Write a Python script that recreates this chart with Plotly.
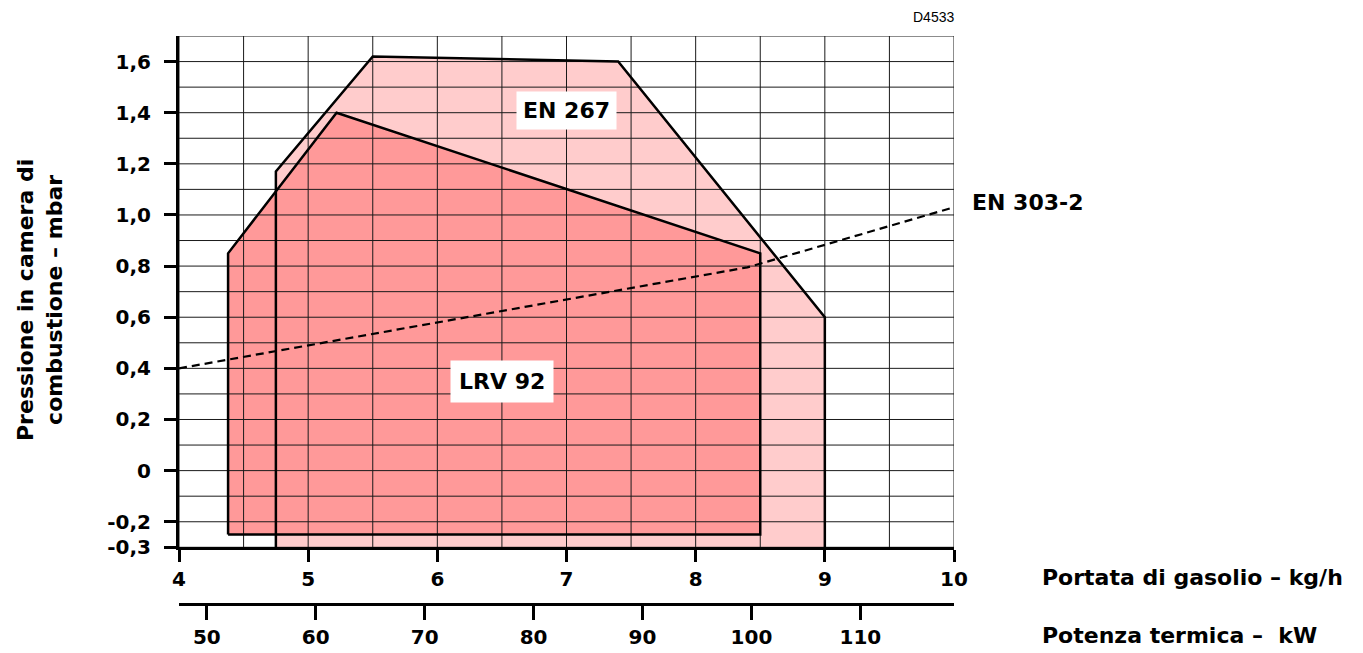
import numpy as np
import plotly.graph_objects as go

# ---- data ----
en267_x = [4.75, 4.75, 5.5, 7.4, 9.0, 9.0]
en267_y = [-0.3, 1.17, 1.62, 1.60, 0.60, -0.3]
lrv_x = [4.38, 4.38, 5.22, 8.5, 8.5, 4.38]
lrv_y = [-0.25, 0.85, 1.40, 0.85, -0.25, -0.25]
en303_x = [4.0, 8.4, 10.0]
en303_y = [0.40, 0.795, 1.03]

y_tickvals = [-0.3, -0.2, 0, 0.2, 0.4, 0.6, 0.8, 1.0, 1.2, 1.4, 1.6]
y_ticktext = ["-0,3", "-0,2", "0", "0,2", "0,4", "0,6", "0,8", "1,0", "1,2", "1,4", "1,6"]
x_tickvals = [4, 5, 6, 7, 8, 9, 10]
kw_tickvals = [50, 60, 70, 80, 90, 100, 110]
kw_per_kgh = 11.86

x_range = [4, 10]
y_range = [-0.3, 1.7]
x_grid = np.arange(4, 10.001, 0.5)
y_grid = np.arange(-0.3, 1.7001, 0.1)

FONT = "DejaVu Sans"
BLACK = "#000000"

fig = go.Figure()

# EN 267 fill
fig.add_trace(go.Scatter(x=en267_x, y=en267_y, fill="toself", fillcolor="#FFCCCC",
                         mode="lines", line=dict(width=0), hoverinfo="skip", showlegend=False))
# LRV 92 fill
fig.add_trace(go.Scatter(x=lrv_x, y=lrv_y, fill="toself", fillcolor="#FF9999",
                         mode="lines", line=dict(width=0), hoverinfo="skip", showlegend=False))

# grid drawn above fills
gx, gy = [], []
for xv in x_grid:
    gx += [xv, xv, None]
    gy += [y_range[0], y_range[1], None]
for yv in y_grid:
    gx += [x_range[0], x_range[1], None]
    gy += [yv, yv, None]
fig.add_trace(go.Scatter(x=gx, y=gy, mode="lines", line=dict(color="#1a1a1a", width=1),
                         hoverinfo="skip", showlegend=False))

# outlines
fig.add_trace(go.Scatter(x=en267_x, y=en267_y, mode="lines",
                         line=dict(color=BLACK, width=2.5), hoverinfo="skip", showlegend=False))
fig.add_trace(go.Scatter(x=lrv_x, y=lrv_y, mode="lines",
                         line=dict(color=BLACK, width=2.5), hoverinfo="skip", showlegend=False))
# EN 303-2
fig.add_trace(go.Scatter(x=en303_x, y=en303_y, mode="lines",
                         line=dict(color=BLACK, width=2.2, dash="8px,5px"),
                         hoverinfo="skip", showlegend=False))
# dummy trace for kW axis
fig.add_trace(go.Scatter(x=kw_tickvals, y=[None] * len(kw_tickvals), xaxis="x2",
                         mode="markers", hoverinfo="skip", showlegend=False))

tickfont = dict(family=FONT, size=20, color=BLACK, weight="bold")

fig.update_layout(
    width=1363, height=653,
    margin=dict(l=171, r=417, t=28, b=41),
    paper_bgcolor="white", plot_bgcolor="white",
    showlegend=False,
    font=dict(family=FONT, color=BLACK),
    xaxis=dict(range=x_range, tickvals=x_tickvals, ticktext=[str(v) for v in x_tickvals],
               showgrid=False, zeroline=False, showline=True, linecolor=BLACK, linewidth=3,
               ticks="outside", ticklen=12, tickwidth=3, tickcolor=BLACK,
               tickfont=tickfont, anchor="y"),
    yaxis=dict(range=y_range, domain=[0.0998, 1], tickvals=y_tickvals, ticktext=y_ticktext,
               showgrid=False, zeroline=False, showline=True, linecolor=BLACK, linewidth=3,
               ticks="outside", ticklen=12, tickwidth=3, tickcolor=BLACK,
               tickfont=tickfont, ticklabelstandoff=9),
    xaxis2=dict(range=[x_range[0] * kw_per_kgh, x_range[1] * kw_per_kgh], tickvals=kw_tickvals,
                overlaying="x", anchor="free", position=0, side="bottom",
                showgrid=False, zeroline=False, showline=True, linecolor=BLACK, linewidth=3,
                ticks="outside", ticklen=14, tickwidth=3, tickcolor=BLACK,
                tickfont=tickfont),
)

bold22 = dict(family=FONT, size=22, color=BLACK, weight="bold")

fig.add_annotation(x=7.0, y=1.407, text="EN 267", showarrow=False, font=bold22,
                   bgcolor="white", borderpad=6)
fig.add_annotation(x=6.5, y=0.348, text="LRV 92", showarrow=False, font=bold22,
                   bgcolor="white", borderpad=8)
fig.add_annotation(x=10, y=1.047, text="EN 303-2", showarrow=False, font=bold22,
                   xanchor="left", xshift=16)
fig.add_annotation(x=1.0, xref="paper", y=1.0, yref="paper", text="D4533", showarrow=False,
                   font=dict(family="Liberation Sans", size=14, color=BLACK),
                   xanchor="right", yanchor="bottom", yshift=9, xshift=2)
fig.add_annotation(x=1.0, xref="paper", y=0.0998, yref="paper",
                   text="Portata di gasolio – kg/h", showarrow=False, font=bold22,
                   xanchor="left", yanchor="middle", xshift=86, yshift=-30)
fig.add_annotation(x=1.0, xref="paper", y=0.0, yref="paper",
                   text="Potenza termica –\u00a0 kW", showarrow=False, font=bold22,
                   xanchor="left", yanchor="middle", xshift=86, yshift=-31)
fig.add_annotation(x=0, xref="paper", y=0.5, yref="paper",
                   text="Pressione in camera di<br>combustione – mbar", showarrow=False,
                   font=bold22, textangle=-90, xanchor="center", yanchor="middle",
                   xshift=-139, yshift=20)

fig.write_html("out.html")
